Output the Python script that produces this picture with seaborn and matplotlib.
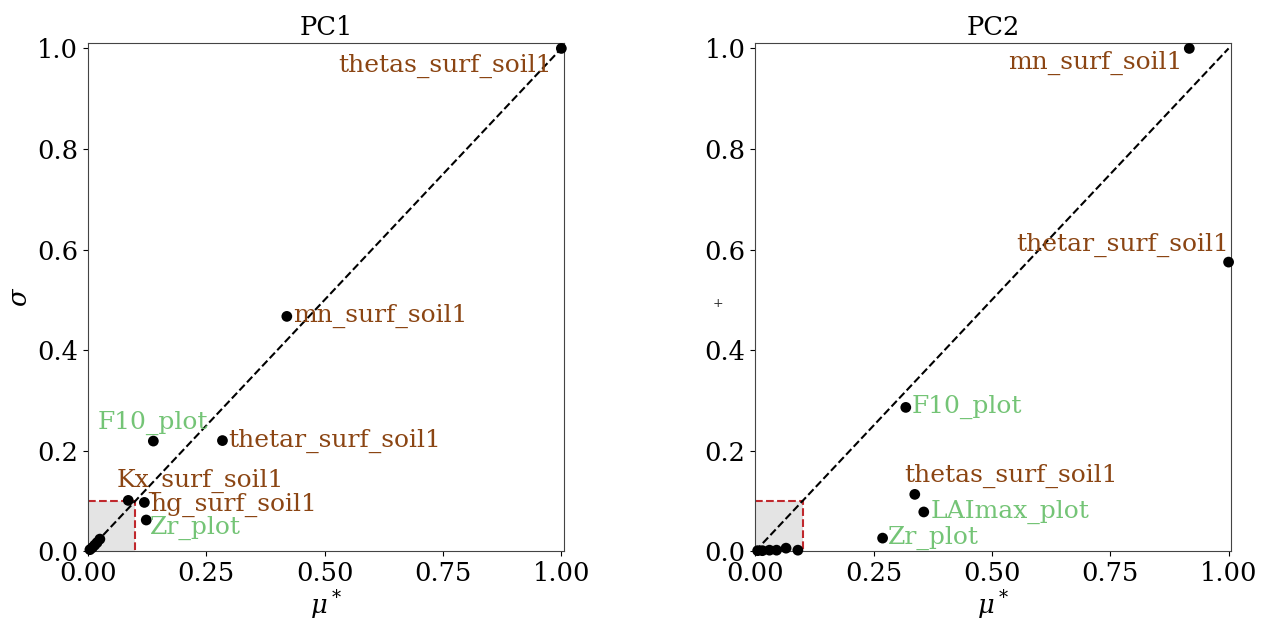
import matplotlib
matplotlib.use("Agg")
import matplotlib.pyplot as plt
import seaborn as sns
import pandas as pd

# PC1 sensitivity results (mu*, sigma), normalised
pc1_names = ["thetas_surf_soil1", "mn_surf_soil1", "thetar_surf_soil1", "F10_plot",
             "Kx_surf_soil1", "hg_surf_soil1", "Zr_plot",
             "", "", "", "", ""]
pc1_mu = [1.0, 0.42, 0.284, 0.138, 0.085, 0.119, 0.123, 0.004, 0.009, 0.014, 0.019, 0.025]
pc1_sigma = [1.0, 0.467, 0.22, 0.219, 0.101, 0.097, 0.062, 0.003, 0.007, 0.012, 0.017, 0.024]

# PC2 sensitivity results
pc2_names = ["mn_surf_soil1", "thetar_surf_soil1", "F10_plot", "thetas_surf_soil1",
             "LAImax_plot", "Zr_plot", "", "", "", "", "", ""]
pc2_mu = [0.917, 1.0, 0.318, 0.337, 0.356, 0.269, 0.005, 0.015, 0.03, 0.045, 0.065, 0.09]
pc2_sigma = [1.0, 0.575, 0.286, 0.113, 0.078, 0.026, 0.001, 0.001, 0.002, 0.002, 0.006, 0.002]

soil_color = "#8b4513"
plot_color = "#74c476"

# label placement: (dx, dy, ha, va) in data units
pc1_offsets = {
    "thetas_surf_soil1": (-0.02, -0.01, "right", "top"),
    "mn_surf_soil1": (0.013, 0.0, "left", "center"),
    "thetar_surf_soil1": (0.012, 0.0, "left", "center"),
    "F10_plot": (-0.117, 0.012, "left", "bottom"),
    "Kx_surf_soil1": (-0.024, 0.014, "left", "bottom"),
    "hg_surf_soil1": (0.012, -0.004, "left", "center"),
    "Zr_plot": (0.008, -0.016, "left", "center"),
}
pc2_offsets = {
    "mn_surf_soil1": (-0.015, -0.005, "right", "top"),
    "thetar_surf_soil1": (0.0, 0.01, "right", "bottom"),
    "F10_plot": (0.012, 0.0, "left", "center"),
    "thetas_surf_soil1": (-0.022, 0.012, "left", "bottom"),
    "LAImax_plot": (0.015, 0.0, "left", "center"),
    "Zr_plot": (0.012, 0.0, "left", "center"),
}

sns.set_style("ticks")
plt.rcParams["font.family"] = ["DejaVu Serif"]
plt.rcParams["mathtext.fontset"] = "dejavuserif"
plt.rcParams["text.color"] = "black"
plt.rcParams["xtick.color"] = "black"
plt.rcParams["ytick.color"] = "black"
plt.rcParams["axes.labelcolor"] = "black"

fig = plt.figure(figsize=(12.63, 6.2), dpi=100)
ax1 = fig.add_axes([0.0697, 0.111, 0.377, 0.819])
ax2 = fig.add_axes([0.598, 0.111, 0.377, 0.819])


def draw(ax, names, mu, sigma, offsets, title, ylabel):
    df = pd.DataFrame({"name": names, "mu": mu, "sigma": sigma})
    ax.add_patch(plt.Rectangle((0, 0), 0.1, 0.1, facecolor="#e4e4e4",
                               edgecolor="none", zorder=0))
    ax.plot([0, 0.1, 0.1], [0.1, 0.1, 0], color="#c0282d", ls="--", lw=1.5, zorder=1)
    ax.plot([0, 1], [0, 1], color="black", ls="--", lw=1.5, zorder=2)
    sns.scatterplot(data=df, x="mu", y="sigma", ax=ax, color="black", s=60,
                    edgecolor="none", zorder=3, clip_on=False)
    for _, r in df.iterrows():
        if not r["name"]:
            continue
        dx, dy, ha, va = offsets[r["name"]]
        col = plot_color if r["name"].endswith("_plot") else soil_color
        ax.text(r["mu"] + dx, r["sigma"] + dy, r["name"], color=col,
                fontsize=18, ha=ha, va=va, zorder=4)
    ax.set_xlim(0, 1.006)
    ax.set_ylim(0, 1.01)
    ax.set_xticks([0, 0.25, 0.5, 0.75, 1.0])
    ax.set_xticklabels(["0.00", "0.25", "0.50", "0.75", "1.00"])
    ax.set_yticks([0, 0.2, 0.4, 0.6, 0.8, 1.0])
    ax.set_yticklabels(["0.0", "0.2", "0.4", "0.6", "0.8", "1.0"])
    ax.tick_params(labelsize=18.5)
    ax.set_xlabel(r"$\mu^*$", fontsize=18.5, labelpad=2)
    ax.set_ylabel(ylabel, fontsize=18.5)
    ax.set_title(title, fontsize=18.5)
    for s in ax.spines.values():
        s.set_color("#444444")


draw(ax1, pc1_names, pc1_mu, pc1_sigma, pc1_offsets, "PC1", r"$\sigma$")
draw(ax2, pc2_names, pc2_mu, pc2_sigma, pc2_offsets, "PC2", "")

# stray marker between the panels
fig.text(718 / 1263, 1 - 303 / 620, "+", fontsize=9, color="#333333",
         ha="center", va="center", family="DejaVu Sans")

fig.savefig("out.png", dpi=100)
